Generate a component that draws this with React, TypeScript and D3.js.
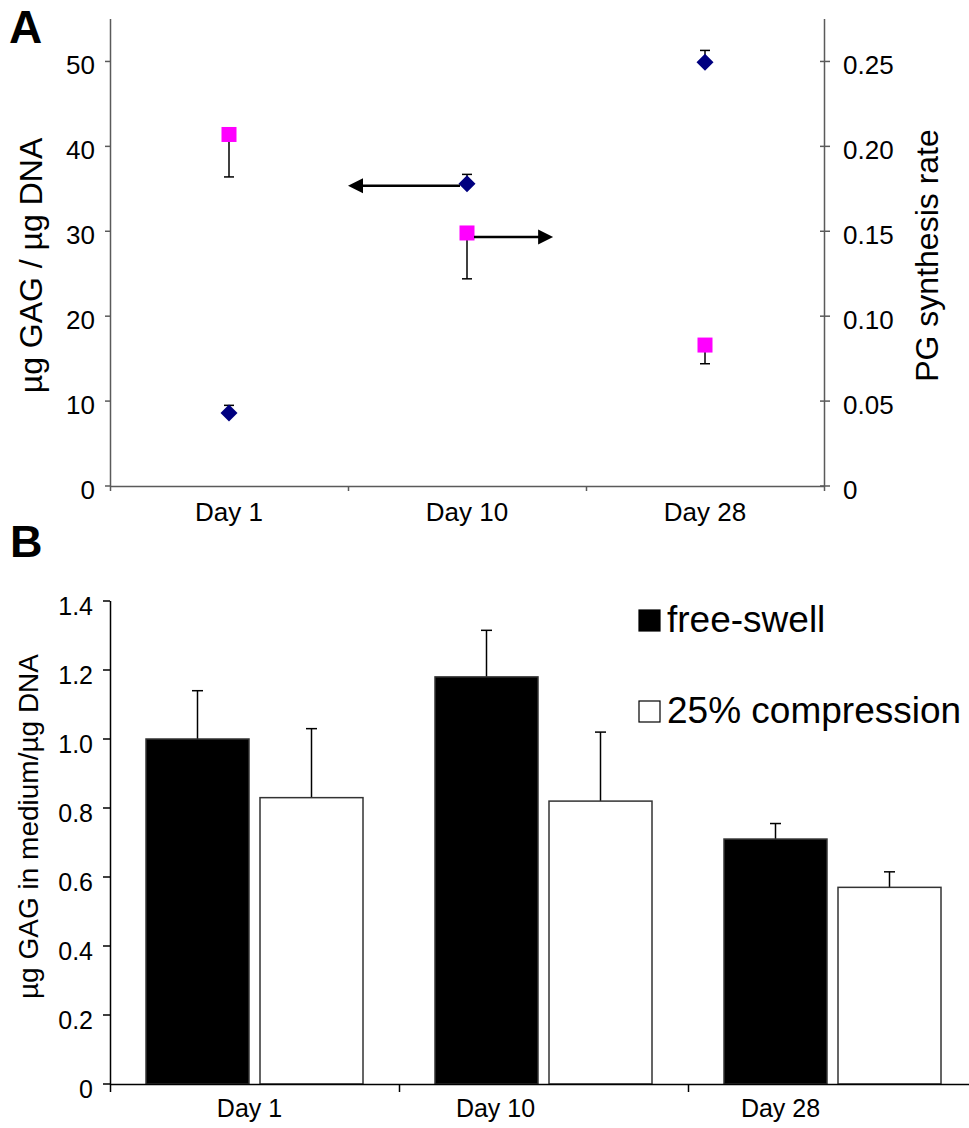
import React from 'react';
import * as d3 from 'd3';

// Time points shared by both panels
const days = ['Day 1', 'Day 10', 'Day 28'];

// Panel A: GAG content (left axis) and PG synthesis rate (right axis)
const gagPerDna = [8.6, 35.6, 49.9];
const gagPerDnaErr = [0.9, 1.1, 1.4];
const pgRate = [0.207, 0.149, 0.083];
const pgRateErr = [0.025, 0.027, 0.011];
const gagTicks = [0, 10, 20, 30, 40, 50];
const pgTicks = [0, 0.05, 0.1, 0.15, 0.2, 0.25];

// Panel B: GAG released to the medium
const series = ['free-swell', '25% compression'];
const freeSwell = [1.0, 1.18, 0.71];
const freeSwellErr = [0.14, 0.135, 0.045];
const compression = [0.83, 0.82, 0.57];
const compressionErr = [0.2, 0.2, 0.045];
const mediumTicks = [0, 0.2, 0.4, 0.6, 0.8, 1.0, 1.2, 1.4];

const FONT = '"Liberation Sans", Arial, Helvetica, sans-serif';

function PanelA() {
  const x = d3.scaleBand<string>().domain(days).range([110, 824]);
  const yL = d3.scaleLinear().domain([0, 55]).range([486, 19]);
  const yR = d3.scaleLinear().domain([0, 0.275]).range([486, 19]);
  const cx = (d: string) => (x(d) as number) + x.bandwidth() / 2;
  const axisColor = '#5a5a5a';
  const fmtR = (v: number) => (v === 0 ? '0' : d3.format('.2f')(v));
  const bounds = [...days.map((d) => x(d) as number), x.range()[1]];

  const diamond = (px: number, py: number, r: number) =>
    `M${px},${py - r}L${px + r},${py}L${px},${py + r}L${px - r},${py}Z`;

  // annotation arrows pointing from the Day 10 markers to their axes
  const mid = days[1];
  const leftArrowY = yL(gagPerDna[1]) + 2;
  const rightArrowY = yR(pgRate[1]) + 4;
  const leftTip = cx(mid) - x.bandwidth() * 0.5;
  const rightTip = cx(mid) + x.bandwidth() * 0.362;
  const head = 15;
  const hw = 7.5;

  return (
    <g fontFamily={FONT}>
      <text x={9} y={43} fontSize={46} fontWeight="bold">A</text>

      {/* axes */}
      <line x1={110.5} x2={110.5} y1={yL(55)} y2={yL(0)} stroke={axisColor} strokeWidth={1.5} />
      <line x1={824.5} x2={824.5} y1={yR(0.275)} y2={yR(0)} stroke={axisColor} strokeWidth={1.5} />
      <line x1={110} x2={825} y1={486.5} y2={486.5} stroke={axisColor} strokeWidth={1.5} />

      {gagTicks.map((t) => (
        <g key={'l' + t}>
          <line x1={105} x2={110} y1={yL(t)} y2={yL(t)} stroke={axisColor} strokeWidth={1.5} />
          <text x={95} y={yL(t)} dy="0.5em" fontSize={26} textAnchor="end">{t}</text>
        </g>
      ))}
      {pgTicks.map((t) => (
        <g key={'r' + t}>
          <line x1={820} x2={830} y1={yR(t)} y2={yR(t)} stroke={axisColor} strokeWidth={1.5} />
          <text x={843} y={yR(t)} dy="0.5em" fontSize={26}>{fmtR(t)}</text>
        </g>
      ))}
      {bounds.map((b, i) => (
        <line key={'xb' + i} x1={b + 0.5} x2={b + 0.5} y1={486} y2={491} stroke={axisColor} strokeWidth={1.5} />
      ))}
      {days.map((d) => (
        <text key={d} x={cx(d)} y={521} fontSize={26} textAnchor="middle">{d}</text>
      ))}

      {/* axis titles */}
      <text transform={`translate(42,${(yL(0) + yL(55)) / 2 + 13}) rotate(-90)`} fontSize={32} textAnchor="middle">
        µg GAG / µg DNA
      </text>
      <text transform={`translate(938,${(yR(0) + yR(0.275)) / 2 + 3}) rotate(-90)`} fontSize={32} textAnchor="middle">
        PG synthesis rate
      </text>

      {/* GAG / DNA: upper error bars and diamonds */}
      {days.map((d, i) => {
        const px = cx(d);
        const top = yL(gagPerDna[i] + gagPerDnaErr[i]);
        return (
          <g key={'g' + d}>
            <line x1={px} x2={px} y1={yL(gagPerDna[i])} y2={top} stroke="#000" strokeWidth={1.5} />
            <line x1={px - 5} x2={px + 5} y1={top} y2={top} stroke="#000" strokeWidth={1.5} />
            <path d={diamond(px, yL(gagPerDna[i]), 8.5)} fill="#000080" />
          </g>
        );
      })}

      {/* PG synthesis rate: lower error bars and squares */}
      {days.map((d, i) => {
        const px = cx(d);
        const bottom = yR(pgRate[i] - pgRateErr[i]);
        return (
          <g key={'p' + d}>
            <line x1={px} x2={px} y1={yR(pgRate[i])} y2={bottom} stroke="#000" strokeWidth={1.5} />
            <line x1={px - 5} x2={px + 5} y1={bottom} y2={bottom} stroke="#000" strokeWidth={1.5} />
            <rect x={px - 7.5} y={yR(pgRate[i]) - 7.5} width={15} height={15} fill="#FF00FF" />
          </g>
        );
      })}

      {/* arrows */}
      <line x1={cx(mid) - 7} x2={leftTip + head - 1} y1={leftArrowY} y2={leftArrowY} stroke="#000" strokeWidth={2.5} />
      <path
        d={`M${leftTip},${leftArrowY}L${leftTip + head},${leftArrowY - hw}L${leftTip + head},${leftArrowY + hw}Z`}
        fill="#000"
      />
      <line x1={cx(mid) + 7} x2={rightTip - head + 1} y1={rightArrowY} y2={rightArrowY} stroke="#000" strokeWidth={2.5} />
      <path
        d={`M${rightTip},${rightArrowY}L${rightTip - head},${rightArrowY - hw}L${rightTip - head},${rightArrowY + hw}Z`}
        fill="#000"
      />
    </g>
  );
}

function PanelB() {
  const x = d3.scaleBand<string>().domain(days).range([110, 977]);
  const sub = d3.scaleBand<string>().domain(series).range([36, 253]).paddingInner(0.0965);
  const y = d3.scaleLinear().domain([0, 1.4]).range([1084, 601]);
  const fmt = (v: number) => (v === 0 ? '0' : d3.format('.1f')(v));
  const bounds = [...days.map((d) => x(d) as number), x.range()[1]];
  const values = [freeSwell, compression];
  const errors = [freeSwellErr, compressionErr];
  const fills = ['#000', '#fff'];
  // hand-placed category labels under each group
  const labelShift = [-5, -48, -52];

  return (
    <g fontFamily={FONT}>
      <text x={10} y={557} fontSize={45} fontWeight="bold">B</text>

      {days.map((d, i) =>
        series.map((s, j) => {
          const v = values[j][i];
          const bx = (x(d) as number) + (sub(s) as number);
          const w = sub.bandwidth();
          const top = y(v + errors[j][i]);
          return (
            <g key={d + s}>
              <line x1={bx + w / 2} x2={bx + w / 2} y1={y(v)} y2={top} stroke="#000" strokeWidth={1.5} />
              <line x1={bx + w / 2 - 5.5} x2={bx + w / 2 + 5.5} y1={top} y2={top} stroke="#000" strokeWidth={1.5} />
              <rect x={bx} y={y(v)} width={w} height={y(0) - y(v)} fill={fills[j]} stroke="#333" strokeWidth={1.5} />
            </g>
          );
        })
      )}

      {/* axes */}
      <line x1={110.5} x2={110.5} y1={y(1.4)} y2={y(0)} stroke="#000" strokeWidth={1.5} />
      <line x1={110} x2={977} y1={1084.5} y2={1084.5} stroke="#000" strokeWidth={1.5} />
      {mediumTicks.map((t) => (
        <g key={'t' + t}>
          <line x1={103} x2={110} y1={y(t)} y2={y(t)} stroke="#000" strokeWidth={1.5} />
          <text x={93} y={y(t)} dy="0.55em" fontSize={25} textAnchor="end">{fmt(t)}</text>
        </g>
      ))}
      {bounds.map((b, i) => (
        <line key={'xb' + i} x1={b + 0.5} x2={b + 0.5} y1={1084} y2={1092} stroke="#000" strokeWidth={1.5} />
      ))}
      {days.map((d, i) => (
        <text key={d} x={(x(d) as number) + x.bandwidth() / 2 + labelShift[i]} y={1117} fontSize={25} textAnchor="middle">
          {d}
        </text>
      ))}

      <text transform={`translate(38,${(y(0) + y(1.4)) / 2 - 16}) rotate(-90)`} fontSize={28} textAnchor="middle">
        µg GAG in medium/µg DNA
      </text>

      {/* legend */}
      {series.map((s, j) => (
        <g key={'lg' + s}>
          <rect x={639} y={610 + j * 91} width={21} height={21} fill={fills[j]} stroke="#000" strokeWidth={1.2} />
          <text x={667} y={632 + j * 91} fontSize={37}>{s}</text>
        </g>
      ))}
    </g>
  );
}

export default function App() {
  return (
    <svg
      width={969}
      height={1128}
      viewBox="0 0 969 1128"
      style={{ position: 'absolute', left: 0, top: 0, background: '#fff' }}
    >
      <rect width={969} height={1128} fill="#fff" />
      <PanelA />
      <PanelB />
    </svg>
  );
}
